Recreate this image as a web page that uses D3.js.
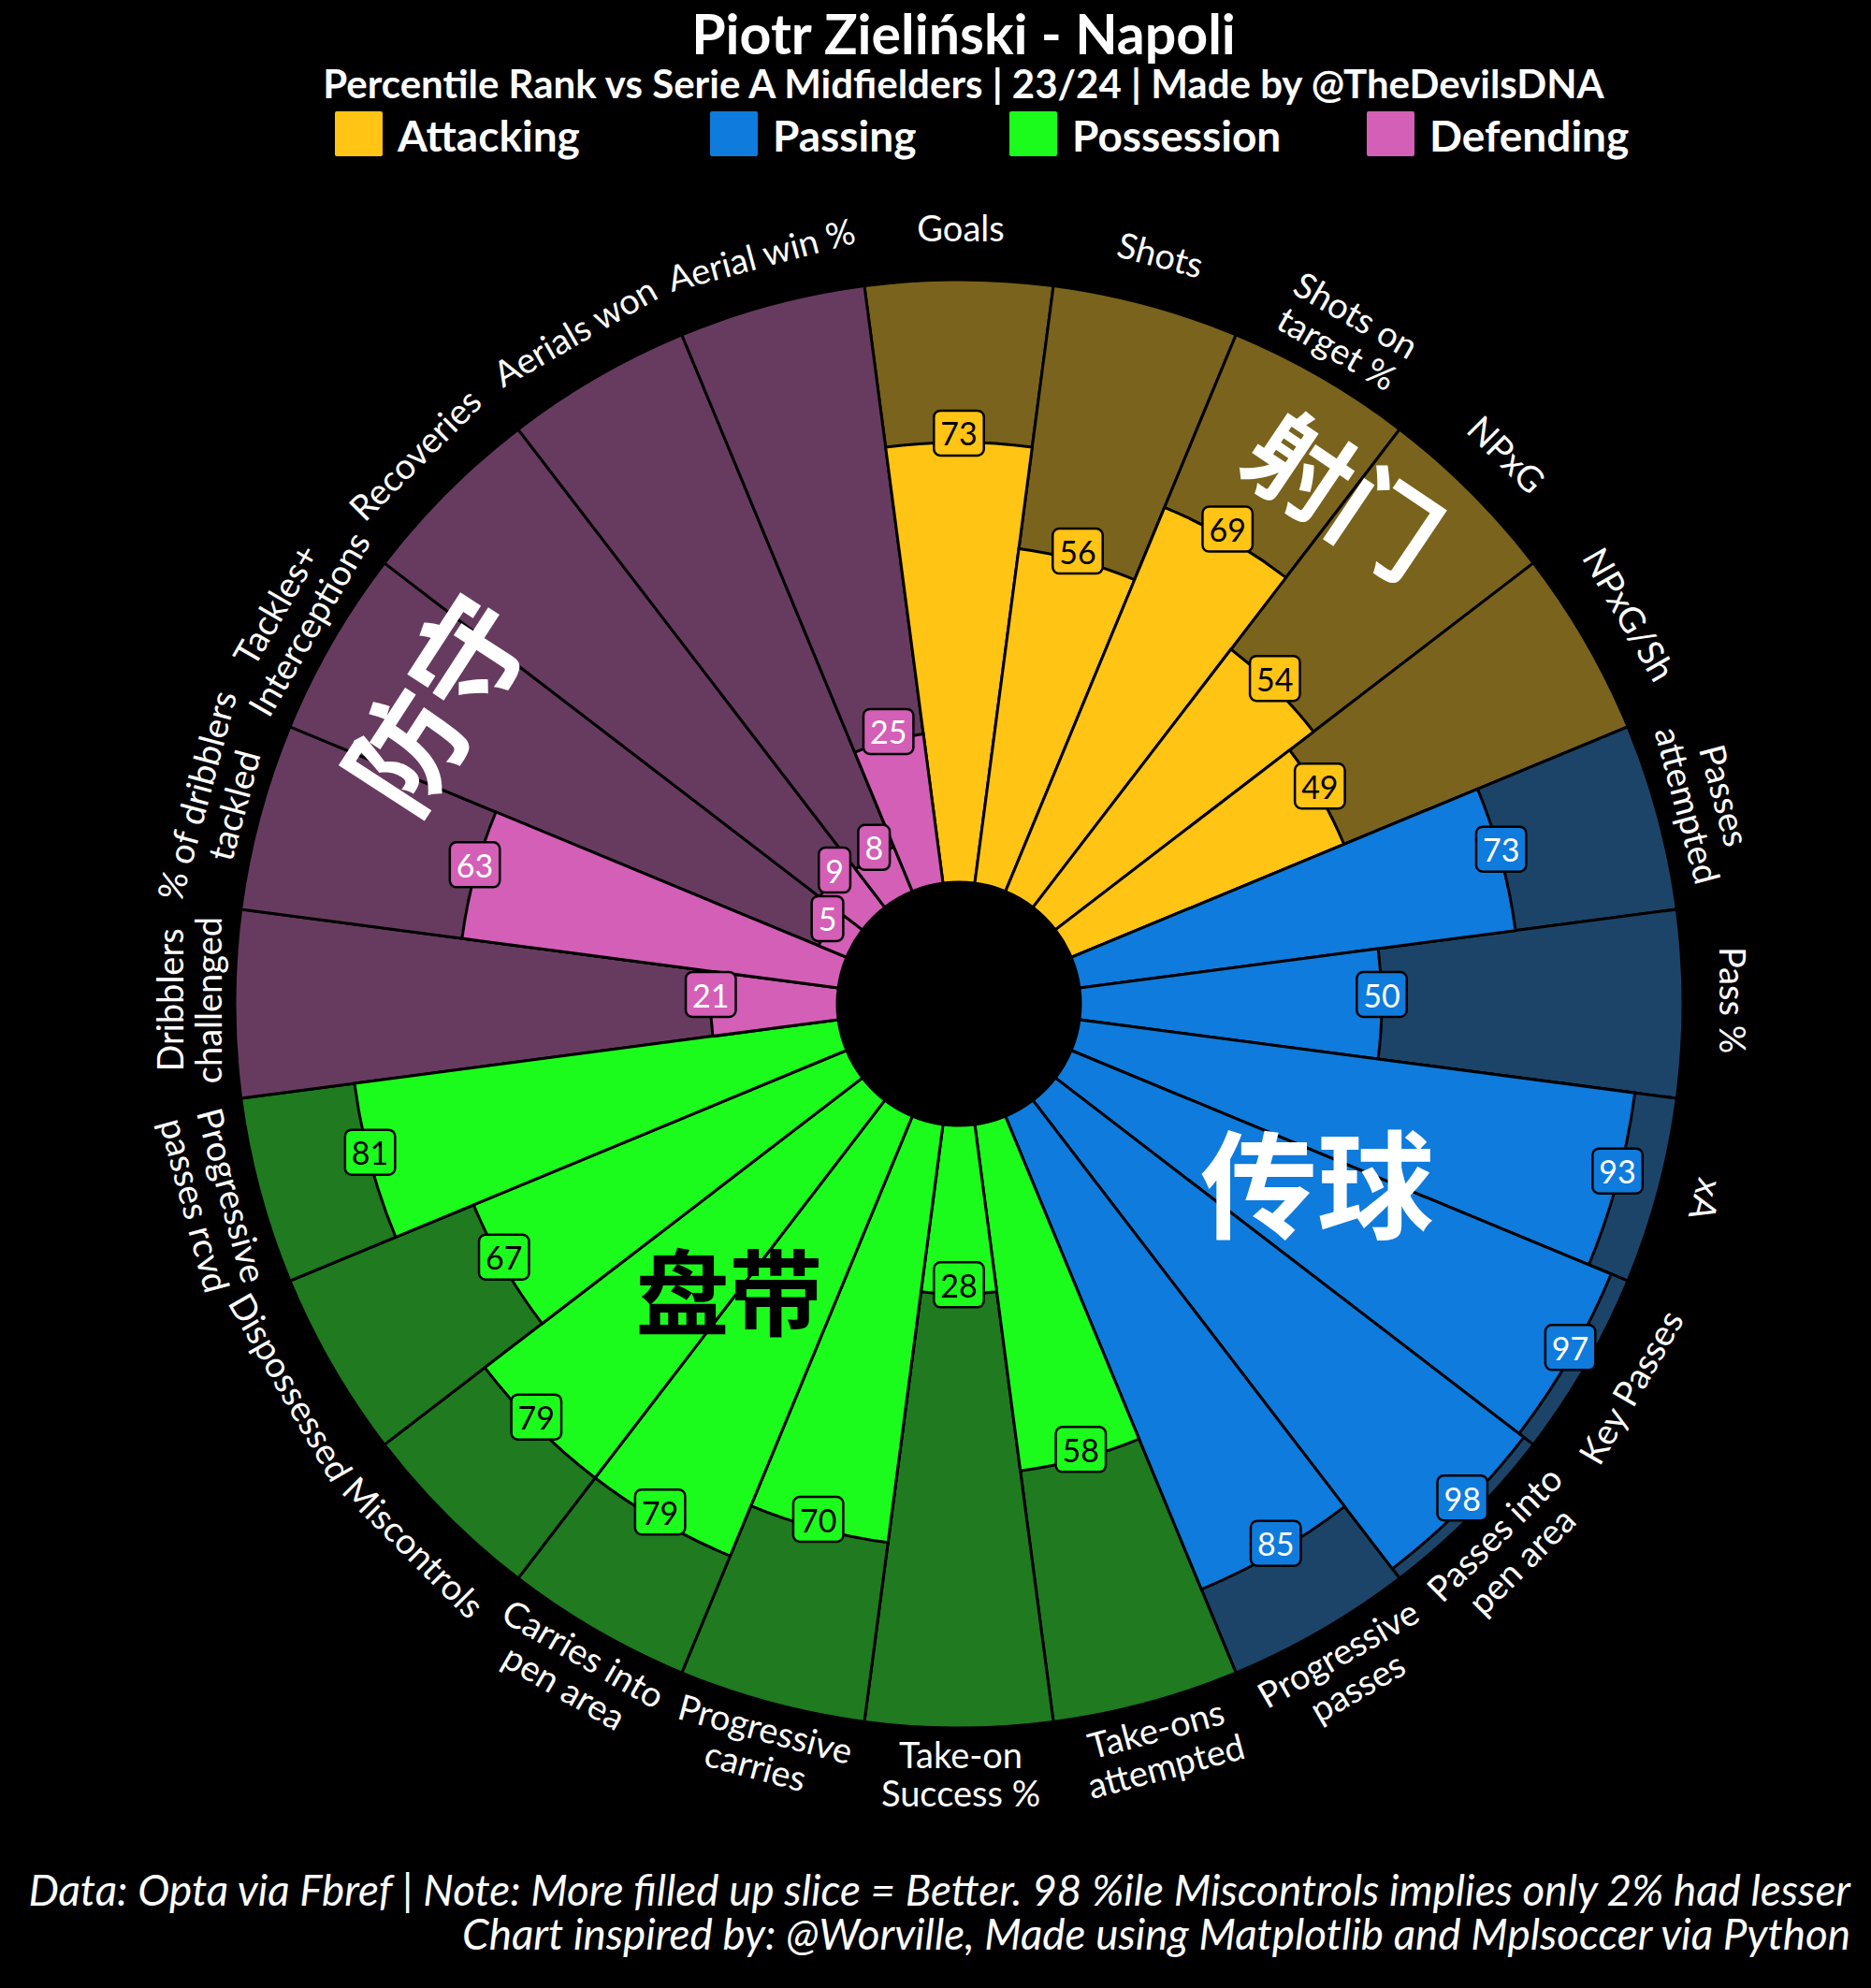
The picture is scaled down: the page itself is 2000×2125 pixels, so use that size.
<!DOCTYPE html>
<html><head><meta charset="utf-8">
<script src="https://cdn.jsdelivr.net/npm/d3@7"></script>
<style>html,body{margin:0;padding:0;background:#000;} svg{display:block}</style>
</head><body>
<script>
// ---------- DATA ----------
const params = ["Goals","Shots","Shots on\ntarget %","NPxG","NPxG/Sh",
  "Passes\nattempted","Pass %","xA","Key Passes","Passes into\npen area","Progressive\npasses",
  "Take-ons\nattempted","Take-on\nSuccess %","Progressive\ncarries","Carries into\npen area","Miscontrols","Dispossessed","Progressive\npasses rcvd",
  "Dribblers\nchallenged","% of dribblers\ntackled","Tackles+\nInterceptions","Recoveries","Aerials won","Aerial win %"];
const values = [73,56,69,54,49, 73,50,93,97,98,85, 58,28,70,79,79,67,81, 21,63,5,9,8,25];
const groupOf = [0,0,0,0,0, 1,1,1,1,1,1, 2,2,2,2,2,2,2, 3,3,3,3,3,3];
const groupNames = ["Attacking","Passing","Possession","Defending"];
const groupCJK = ["射门","传球","盘带","防守"];
const titleText = "Piotr Zieliński - Napoli";
const subtitleText = "Percentile Rank vs Serie A Midfielders | 23/24 | Made by @TheDevilsDNA";
const footerLines = ["Data: Opta via Fbref | Note: More filled up slice = Better. 98 %ile Miscontrols implies only 2% had lesser",
  "Chart inspired by: @Worville, Made using Matplotlib and Mplsoccer via Python"];

// ---------- STYLE ----------
const sliceColors = ["#FFC414","#0F7BDC","#1CFC1C","#D35FB6"];
const bgColors    = ["#7A631C","#1C4468","#1F7A20","#673B60"];
const valTextCol  = ["#000","#fff","#000","#fff"];
const cjkCol      = ["#fff","#fff","#000","#fff"];

const W=2000, H=2125, cx=1025, cy=1073, r0=130, R=774;
const FONT = "Lato, 'Noto Sans', sans-serif";
const CJK = "'Noto Sans CJK SC', sans-serif";

const svg = d3.select("body").append("svg").attr("width",W).attr("height",H);
svg.append("rect").attr("width",W).attr("height",H).attr("fill","#000");

const n = params.length;
const angle = d3.scaleLinear().domain([0,n]).range([0,2*Math.PI]);
const half = Math.PI/n;
const rScale = d3.scaleLinear().domain([0,100]).range([r0,R]);
const arc = d3.arc();
const g = svg.append("g").attr("transform",`translate(${cx},${cy})`);
const pol = (r,a)=>[r*Math.sin(a), -r*Math.cos(a)];

// background slices
g.selectAll("path.bg").data(values).join("path").attr("class","bg")
  .attr("d",(d,i)=>arc({innerRadius:r0,outerRadius:R,startAngle:angle(i)-half,endAngle:angle(i)+half}))
  .attr("fill",(d,i)=>bgColors[groupOf[i]]).attr("stroke","#000").attr("stroke-width",3);
// value slices
g.selectAll("path.val").data(values).join("path").attr("class","val")
  .attr("d",(d,i)=>arc({innerRadius:r0,outerRadius:rScale(d),startAngle:angle(i)-half,endAngle:angle(i)+half}))
  .attr("fill",(d,i)=>sliceColors[groupOf[i]]).attr("stroke","#000").attr("stroke-width",3);
g.append("circle").attr("r",r0).attr("fill","#000");

// CJK group annotations (polar placement)
const cjkPlace = [{r:688,deg:37,rot:34,size:110},{r:426,deg:116,rot:0,size:125},{r:390,deg:219,rot:0,size:100},{r:651,deg:300,rot:-57,size:122}];
groupCJK.forEach((t,k)=>{
  const p = cjkPlace[k];
  const [x,y] = pol(p.r, p.deg*Math.PI/180);
  g.append("text").attr("transform",`translate(${x},${y}) rotate(${p.rot})`)
    .attr("text-anchor","middle").attr("dominant-baseline","central")
    .attr("font-family",CJK).attr("font-weight",700).attr("font-size",p.size)
    .attr("fill",cjkCol[k]).text(t);
});

// value boxes
values.forEach((v,i)=>{
  const [x,y] = pol(rScale(v), angle(i));
  const gg = g.append("g").attr("transform",`translate(${x},${y-10})`);
  const t = gg.append("text").attr("text-anchor","middle").attr("dominant-baseline","central")
    .attr("font-family",FONT).attr("font-size",34).attr("fill",valTextCol[groupOf[i]]).text(v);
  const bb = t.node().getBBox();
  const padX=7, h=48;
  gg.insert("rect","text").attr("x",bb.x-padX).attr("y",-h/2).attr("width",bb.width+2*padX).attr("height",h)
    .attr("rx",7).attr("fill",sliceColors[groupOf[i]]).attr("stroke","#000").attr("stroke-width",2.5);
});

// param labels
const labelR = 826, lh = 41;
params.forEach((p,i)=>{
  const deg = angle(i)*180/Math.PI;
  const rot = deg<=105 ? deg : (deg<=255 ? deg-180 : deg-360);
  const [x,y] = pol(labelR, angle(i));
  const lines = p.split("\n");
  const t = g.append("text").attr("transform",`translate(${x+2},${y-4}) rotate(${rot})`)
    .attr("text-anchor","middle").attr("font-family",FONT).attr("font-size",38).attr("fill","#fff");
  lines.forEach((ln,k)=>{
    t.append("tspan").attr("x",0).attr("y",(k-(lines.length-1)/2)*lh).attr("dominant-baseline","central").text(ln);
  });
});

// title block
svg.append("text").attr("x",1030).attr("y",35).attr("text-anchor","middle").attr("dominant-baseline","central")
  .attr("font-family",FONT).attr("font-weight",700).attr("font-size",59).attr("fill","#fff").text(titleText);
svg.append("text").attr("x",1030).attr("y",89).attr("text-anchor","middle").attr("dominant-baseline","central")
  .attr("font-family",FONT).attr("font-weight",700).attr("font-size",42).attr("fill","#fff").text(subtitleText);

// legend
const legendX = [358,759,1079,1461];
groupNames.forEach((nm,k)=>{
  svg.append("rect").attr("x",legendX[k]).attr("y",119).attr("width",51).attr("height",48).attr("rx",2)
    .attr("fill",sliceColors[k]);
  svg.append("text").attr("x",legendX[k]+67).attr("y",144).attr("dominant-baseline","central")
    .attr("font-family",FONT).attr("font-weight",700).attr("font-size",46).attr("fill","#fff").text(nm);
});

// footer
footerLines.forEach((ln,k)=>{
  svg.append("text").attr("x",1978).attr("y",2019+k*47).attr("text-anchor","end").attr("dominant-baseline","central")
    .attr("font-family",FONT).attr("font-style","italic").attr("font-size",45.8).attr("fill","#fff").text(ln);
});
</script>
</body></html>
